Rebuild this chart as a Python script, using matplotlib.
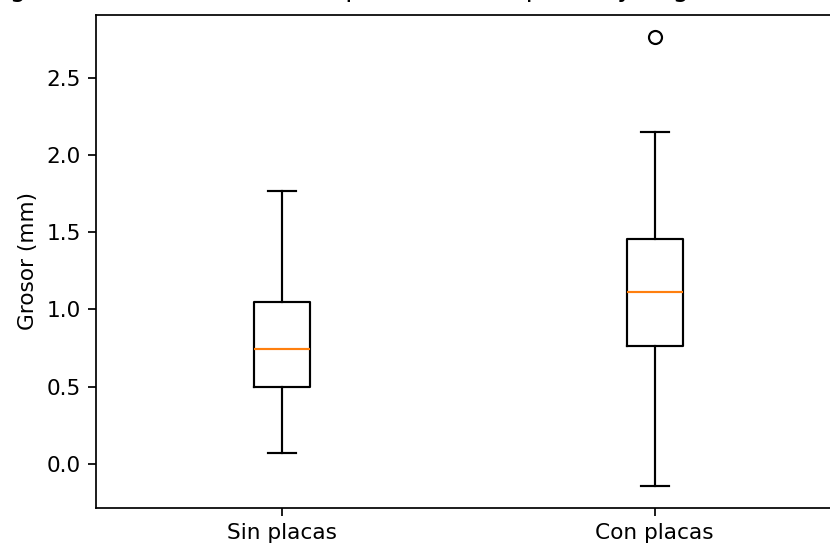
import matplotlib
matplotlib.use("Agg")
import matplotlib.pyplot as plt

# Data (mm)
categories = ["Sin placas", "Con placas"]
whisker_low = [0.072, -0.140]
q1 = [0.499, 0.762]
median = [0.747, 1.112]
q3 = [1.050, 1.453]
whisker_high = [1.766, 2.148]
outliers = [[], [2.760]]

title_prefix = "Distribución del "
title_rest = "grosor de la arteria entre pacientes sin placas y el grosor de la arteria con placas"
title = title_prefix + title_rest

stats = []
for i, name in enumerate(categories):
    stats.append(dict(label=name, whislo=whisker_low[i], q1=q1[i], med=median[i],
                      q3=q3[i], whishi=whisker_high[i], fliers=outliers[i]))

DPI = 156
W, H = 830, 548
fig = plt.figure(figsize=(W / DPI, H / DPI), dpi=DPI)
ax_left, ax_right, ax_top, ax_bottom = 96, 841, 15, 508
ax = fig.add_axes([ax_left / W, (H - ax_bottom) / H,
                   (ax_right - ax_left) / W, (ax_bottom - ax_top) / H])
ax.bxp(stats)
ax.set_ylabel("Grosor (mm)")

# place title so that its visible (cropped) part lines up with the reference
renderer = fig.canvas.get_renderer()
probe = fig.text(0, 0, title_prefix + "g", fontsize=plt.rcParams["axes.titlesize"])
w1 = probe.get_window_extent(renderer).width
probe.set_text("g")
w2 = probe.get_window_extent(renderer).width
probe.remove()
prefix_w = w1 - w2
start_px = 10 - prefix_w
ax.set_title(title, x=(start_px - ax_left) / (ax_right - ax_left), ha="left", pad=8.8)

fig.savefig("out.png", dpi=DPI)
